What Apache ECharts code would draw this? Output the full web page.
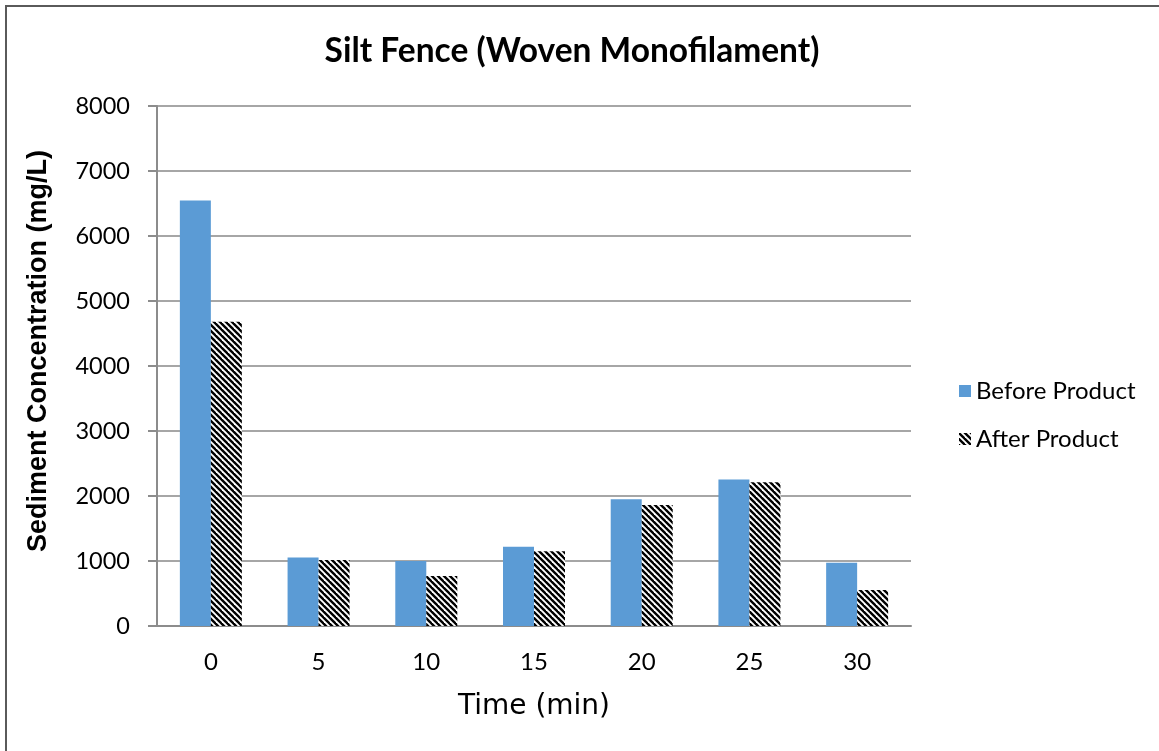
<!DOCTYPE html>
<html>
<head>
<meta charset="utf-8">
<script src="https://cdn.jsdelivr.net/npm/echarts@6/dist/echarts.min.js"></script>
<style>
html,body{margin:0;padding:0;background:#fff;}
#c{width:1159px;height:751px;}
</style>
</head>
<body>
<div id="c"></div>
<script>
const categories = ['0', '5', '10', '15', '20', '25', '30'];
const beforeProduct = [6545, 1055, 1000, 1220, 1950, 2255, 975];
const afterProduct = [4680, 1015, 770, 1150, 1860, 2210, 555];
const seriesNames = ['Before Product', 'After Product'];
const yTicks = [0, 1000, 2000, 3000, 4000, 5000, 6000, 7000, 8000];

function makeHatch() {
  const s = 6;
  const cv = document.createElement('canvas');
  cv.width = s; cv.height = s;
  const ctx = cv.getContext('2d');
  ctx.fillStyle = '#ffffff';
  ctx.fillRect(0, 0, s, s);
  ctx.strokeStyle = '#000000';
  ctx.lineWidth = 2.4;
  for (let o = -s; o <= s; o += s) {
    ctx.beginPath();
    ctx.moveTo(o - 1, -1);
    ctx.lineTo(o + s + 1, s + 1);
    ctx.stroke();
  }
  return cv;
}

const chart = echarts.init(document.getElementById('c'), null, {renderer: 'canvas'});
const option = {
  backgroundColor: '#ffffff',
  animation: false,
  graphic: [
    {
      type: 'rect',
      shape: {x: 6, y: 6, width: 1200, height: 800},
      style: {fill: 'none', stroke: '#5a5a5a', lineWidth: 2},
      silent: true
    },
    {
      type: 'text',
      x: 572, y: 51,
      style: {
        text: 'Silt Fence (Woven Monofilament)',
        font: 'bold 33.5px Lato',
        fill: '#000',
        align: 'center', verticalAlign: 'middle',
        textAlign: 'center', textVerticalAlign: 'middle'
      },
      silent: true
    },
    {
      type: 'text',
      x: 39, y: 351,
      rotation: Math.PI / 2,
      style: {
        text: 'Sediment Concentration (mg/L)',
        font: 'bold 27px "Liberation Sans"',
        fill: '#000',
        align: 'center', verticalAlign: 'middle',
        textAlign: 'center', textVerticalAlign: 'middle'
      },
      silent: true
    }
  ],
  legend: {
    orient: 'vertical',
    left: 954,
    top: 374,
    itemWidth: 12,
    itemHeight: 12,
    itemGap: 24,
    icon: 'rect',
    data: seriesNames,
    textStyle: {fontFamily: 'Lato', fontSize: 24, color: '#000', padding: [0, 0, 0, 0]}
  },
  grid: {left: 157, right: 248, top: 106, bottom: 125, containLabel: false},
  xAxis: {
    type: 'category',
    data: categories,
    name: 'Time (min)',
    nameLocation: 'middle',
    nameGap: 67,
    nameTextStyle: {fontFamily: 'DejaVu Sans', fontSize: 28, color: '#000'},
    axisLine: {lineStyle: {color: '#8c8c8c', width: 2}},
    axisTick: {show: false},
    axisLabel: {fontFamily: 'Lato', fontSize: 24, color: '#000', margin: 24}
  },
  yAxis: {
    type: 'value',
    min: yTicks[0],
    max: yTicks[yTicks.length - 1],
    interval: 1000,
    axisLine: {show: true, lineStyle: {color: '#8c8c8c', width: 2}},
    axisTick: {show: true, length: 9, lineStyle: {color: '#8c8c8c', width: 2}},
    axisLabel: {fontFamily: 'Lato', fontSize: 23.5, color: '#000', margin: 27, formatter: function (v) { return String(v); }},
    splitLine: {lineStyle: {color: '#a6a6a6', width: 2}}
  },
  series: [
    {
      name: seriesNames[0],
      type: 'bar',
      data: beforeProduct,
      barWidth: 31,
      barGap: '0%',
      itemStyle: {color: '#5b9bd5'}
    },
    {
      name: seriesNames[1],
      type: 'bar',
      data: afterProduct,
      barWidth: 31,
      barGap: '0%',
      itemStyle: {color: {image: makeHatch(), repeat: 'repeat'}}
    }
  ]
};
chart.setOption(option);
</script>
</body>
</html>
